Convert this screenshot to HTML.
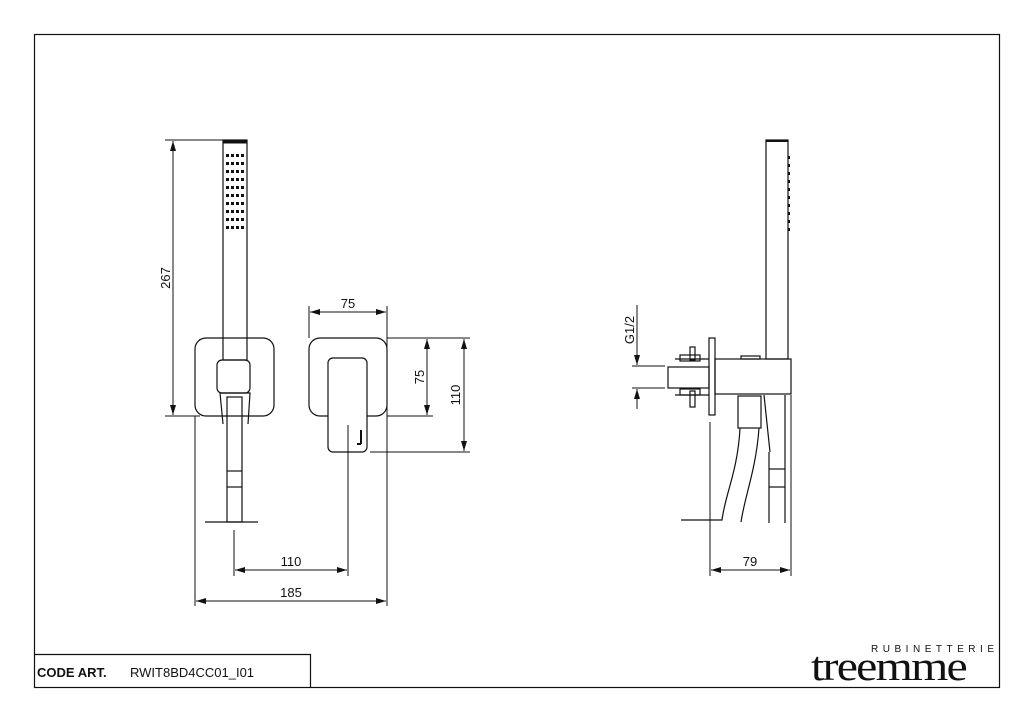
<!DOCTYPE html>
<html><head><meta charset="utf-8"><style>
html,body{margin:0;padding:0;background:#fff;}
svg{display:block}
text{font-family:"Liberation Sans",sans-serif;fill:#111}
</style></head><body>
<svg width="1024" height="723" viewBox="0 0 1024 723" xmlns="http://www.w3.org/2000/svg">
<defs>
<marker id="a" viewBox="0 0 10 6" refX="10" refY="3" markerWidth="10" markerHeight="6" orient="auto-start-reverse" markerUnits="userSpaceOnUse"><path d="M0,0 L10,3 L0,6 z" fill="#111"/></marker>
</defs>
<g fill="none" stroke="#111" stroke-width="1.2">
<rect x="34.5" y="34.5" width="965" height="653"/>
<polyline points="34.5,654.5 310.5,654.5 310.5,688"/>

<rect x="195" y="338" width="79" height="78" rx="11"/>
<rect x="223" y="140" width="24" height="220"/>
<line x1="223" y1="142" x2="247" y2="142" stroke-width="3"/>
<rect x="217" y="360" width="33" height="33" rx="5"/>
<polyline points="220,393 250,393 248,424"/>
<line x1="220" y1="393" x2="223" y2="424"/>
<rect x="227" y="397" width="15" height="125"/>
<line x1="227" y1="471" x2="242" y2="471"/>
<line x1="227" y1="487" x2="242" y2="487"/>
<line x1="205" y1="522" x2="258" y2="522"/>
</g>
<g fill="#111">
<g id="dots">
<rect x="226" y="154" width="3" height="3"/><rect x="231" y="154" width="3" height="3"/><rect x="236" y="154" width="3" height="3"/><rect x="241" y="154" width="3" height="3"/>
</g>
<use href="#dots" y="8"/><use href="#dots" y="16"/><use href="#dots" y="24"/><use href="#dots" y="32"/><use href="#dots" y="40"/><use href="#dots" y="48"/><use href="#dots" y="56"/><use href="#dots" y="64"/><use href="#dots" y="72"/>
</g>
<g fill="none" stroke="#111" stroke-width="1.2">
<rect x="309" y="338" width="78" height="78" rx="11"/>
<rect x="328" y="358" width="39" height="94" rx="5" fill="#fff"/>
<line x1="361" y1="430" x2="361" y2="444" stroke-width="2"/>
<line x1="357" y1="444" x2="361" y2="444" stroke-width="2"/>

<g stroke-width="1">
<line x1="165" y1="140" x2="223" y2="140"/>
<line x1="165" y1="416" x2="200" y2="416"/>
<line x1="173" y1="141" x2="173" y2="415" marker-start="url(#a)" marker-end="url(#a)"/>
<line x1="195" y1="416" x2="195" y2="606"/>
<line x1="234" y1="530" x2="234" y2="576"/>
<line x1="348" y1="425" x2="348" y2="576"/>
<line x1="387" y1="306" x2="387" y2="606"/>
<line x1="309" y1="306" x2="309" y2="338"/>
<line x1="310" y1="312" x2="386" y2="312" marker-start="url(#a)" marker-end="url(#a)"/>
<line x1="387" y1="338" x2="470" y2="338"/>
<line x1="387" y1="416" x2="433" y2="416"/>
<line x1="370" y1="452" x2="470" y2="452"/>
<line x1="427" y1="339" x2="427" y2="415" marker-start="url(#a)" marker-end="url(#a)"/>
<line x1="464" y1="339" x2="464" y2="451" marker-start="url(#a)" marker-end="url(#a)"/>
<line x1="235" y1="570" x2="347" y2="570" marker-start="url(#a)" marker-end="url(#a)"/>
<line x1="196" y1="601" x2="386" y2="601" marker-start="url(#a)" marker-end="url(#a)"/>
</g>

<rect x="766" y="140" width="22" height="219"/>
<line x1="766" y1="141" x2="788" y2="141" stroke-width="2"/>
<rect x="709" y="338" width="6" height="77"/>
<rect x="715" y="359" width="76" height="35"/>
<rect x="668" y="367" width="41" height="21"/>
<line x1="675" y1="359" x2="709" y2="359"/>
<line x1="675" y1="395" x2="709" y2="395"/>
<rect x="690" y="347" width="5" height="13"/>
<rect x="690" y="391" width="5" height="16"/>
<rect x="680" y="355" width="20" height="6"/>
<rect x="680" y="389" width="20" height="6"/>
<rect x="741" y="356" width="19" height="3"/>
<rect x="738" y="396" width="23" height="32"/>
<path d="M740,428 C738,470 725,495 722,520 L681,520"/>
<path d="M759,428 C756,470 745,495 741,522"/>
<line x1="764" y1="395" x2="770" y2="452"/>
<line x1="769" y1="452" x2="769" y2="523"/>
<line x1="785" y1="395" x2="785" y2="523"/>
<line x1="769" y1="469" x2="785" y2="469"/>
<line x1="769" y1="487" x2="785" y2="487"/>
<g stroke-width="1">
<line x1="710" y1="422" x2="710" y2="576"/>
<line x1="791" y1="395" x2="791" y2="576"/>
<line x1="711" y1="570" x2="790" y2="570" marker-start="url(#a)" marker-end="url(#a)"/>
<line x1="632" y1="366" x2="665" y2="366"/>
<line x1="632" y1="388" x2="665" y2="388"/>
<line x1="637" y1="305" x2="637" y2="365" marker-end="url(#a)"/>
<line x1="637" y1="389" x2="637" y2="409" marker-start="url(#a)"/>
</g>
</g>
<g fill="#111">
<rect x="788" y="156" width="2" height="3"/><rect x="788" y="164" width="2" height="3"/><rect x="788" y="172" width="2" height="3"/><rect x="788" y="180" width="2" height="3"/><rect x="788" y="188" width="2" height="3"/><rect x="788" y="196" width="2" height="3"/><rect x="788" y="204" width="2" height="3"/><rect x="788" y="212" width="2" height="3"/><rect x="788" y="220" width="2" height="3"/><rect x="788" y="228" width="2" height="3"/>
</g>

<g font-size="13">
<text x="170" y="278" transform="rotate(-90 170 278)" text-anchor="middle">267</text>
<text x="348" y="308" text-anchor="middle">75</text>
<text x="424" y="377" transform="rotate(-90 424 377)" text-anchor="middle">75</text>
<text x="460" y="395" transform="rotate(-90 460 395)" text-anchor="middle">110</text>
<text x="291" y="566" text-anchor="middle">110</text>
<text x="291" y="597" text-anchor="middle">185</text>
<text x="750" y="566" text-anchor="middle">79</text>
<text x="634" y="330" transform="rotate(-90 634 330)" text-anchor="middle">G1/2</text>
</g>
<text x="37" y="677" font-size="13" font-weight="bold">CODE ART.</text>
<text x="130" y="677" font-size="13">RWIT8BD4CC01_I01</text>
<text x="871" y="652" font-size="10" textLength="123" lengthAdjust="spacing">RUBINETTERIE</text>
<text x="811" y="680" font-size="41" style="font-family:'Liberation Serif',serif" letter-spacing="-1.5" textLength="155" lengthAdjust="spacingAndGlyphs">treemme</text>
</svg>
</body></html>
